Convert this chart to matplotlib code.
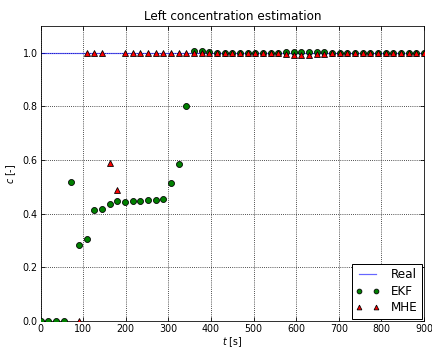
import matplotlib
matplotlib.use("Agg")
import matplotlib.pyplot as plt
import numpy as np

t = [0, 18, 36, 54, 72, 90, 108, 126, 144, 162, 180, 198, 216, 234, 252, 270, 288, 306, 324, 342,
     360, 378, 396, 414, 432, 450, 468, 486, 504, 522, 540, 558, 576, 594, 612, 630, 648, 666,
     684, 702, 720, 738, 756, 774, 792, 810, 828, 846, 864, 882, 900]
ekf = [0.0, 0.0, 0.0, 0.0, 0.52, 0.285, 0.305, 0.415, 0.418, 0.437, 0.447, 0.443, 0.447, 0.447,
       0.45, 0.45, 0.455, 0.513, 0.585, 0.80,
       1.006, 1.008, 1.002, 1.0, 1.0, 1.0, 1.0, 1.0, 1.0, 1.0, 1.0, 1.0, 1.003, 1.004, 1.004,
       1.004, 1.003, 1.002, 1.0, 1.0, 1.0, 1.0, 1.0, 1.0, 1.0, 1.0, 1.0, 1.0, 1.0, 1.0, 1.0]
t_mhe = [90, 108, 126, 144, 162, 180, 198, 216, 234, 252, 270, 288, 306, 324, 342,
         360, 378, 396, 414, 432, 450, 468, 486, 504, 522, 540, 558, 576, 594, 612, 630, 648, 666,
         684, 702, 720, 738, 756, 774, 792, 810, 828, 846, 864, 882, 900]
mhe = [0.0, 1.0, 1.0, 1.0, 0.59, 0.487, 1.0, 1.0, 1.0, 1.0, 1.0, 1.0, 1.0, 1.0, 1.0,
       1.0, 1.0, 1.0, 1.0, 1.0, 1.0, 1.0, 1.0, 1.0, 1.0, 1.0, 1.0, 0.995, 0.993, 0.993,
       0.993, 0.994, 0.996, 1.0, 1.0, 1.0, 1.0, 1.0, 1.0, 1.0, 1.0, 1.0, 1.0, 1.0, 1.0, 1.0]
real_t = [0, 900]
real_c = [1.0, 1.0]

fig = plt.figure(figsize=(6, 349/72), dpi=72)
ax = fig.add_axes([40.5/432, 28/349, 383.5/432, 295/349])
ax.plot(real_t, real_c, color='#0000ff', lw=1.2, alpha=0.6, label='Real', zorder=2)
ax.plot(t, ekf, 'o', color='green', mec='black', mew=0.8, ms=6, label='EKF', zorder=3)
ax.plot(t_mhe, mhe, '^', color='red', mec='black', mew=0.8, ms=6, label='MHE', zorder=4)
ax.set_xlim(0, 900)
ax.set_ylim(0, 1.1)
ax.set_xticks(range(0, 901, 100))
ax.set_yticks([0, 0.2, 0.4, 0.6, 0.8, 1.0])
ax.set_yticklabels(['0.0', '0.2', '0.4', '0.6', '0.8', '1.0'])
ax.grid(True, color='black', linestyle=':', linewidth=0.8)
ax.set_axisbelow(True)
ax.tick_params(direction='in', labelsize=9.5, top=True, right=True, length=4, pad=3)
ax.set_title('Left concentration estimation', fontsize=12)
ax.set_xlabel('$t$ [s]', fontsize=9.5, labelpad=1)
ax.set_ylabel('$c$ [-]', fontsize=9.5, labelpad=4)
leg = ax.legend(loc='lower right', numpoints=2, fontsize=12, fancybox=False,
                framealpha=1, edgecolor='black', borderaxespad=0.2, handlelength=2.0,
                labelspacing=0.3, borderpad=0.35, handletextpad=0.9, markerscale=0.8)
leg.get_frame().set_linewidth(1)
fig.savefig('out.png', dpi=72)
